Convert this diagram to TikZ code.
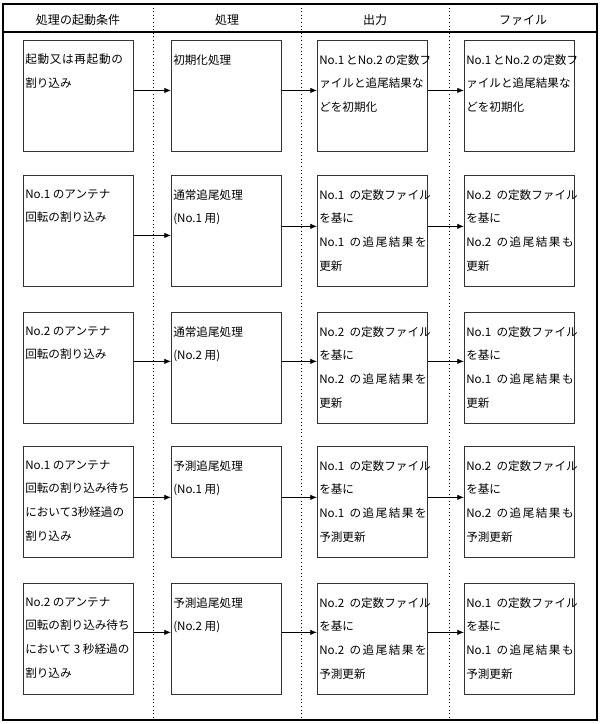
\documentclass[tikz,border=0pt]{standalone}
\usepackage{fontspec}
\newfontfamily\cjk{Noto Sans CJK JP}
\newfontfamily\cjkwide[LetterSpace=13]{Noto Sans CJK JP}
\newfontfamily\cjkmid[LetterSpace=6]{Noto Sans CJK JP}
\newcommand{\gp}{\hspace{4pt}}
\newcommand{\sg}{\hspace{1.5pt}}
\usetikzlibrary{arrows.meta}
\tikzset{
  box/.style={draw=black!80, line width=0.6pt, minimum width=82.5pt, minimum height=83.25pt, inner sep=0pt, anchor=north west},
  txt/.style={anchor=north west, inner sep=0pt, align=left, font=\cjk\fontsize{8.7}{17.8}\selectfont},
  head/.style={inner sep=0pt, font=\cjk\fontsize{9}{11}\selectfont},
  arr/.style={-{Latex[length=5pt,width=4pt]}, line width=0.6pt},
  divider/.style={dotted, line width=0.7pt},
}
\begin{document}
\begin{tikzpicture}[x=0.75pt,y=-0.75pt]
\useasboundingbox (0,0) rectangle (600,724);
% frame
\draw[line width=1.2pt] (3,4) rectangle (597,720);
\draw[line width=0.8pt] (3,32) -- (597,32);
\coordinate (d1t) at (153,4); \coordinate (d1b) at (153,720);
\coordinate (d2t) at (301,4); \coordinate (d2b) at (301,720);
\coordinate (d3t) at (449,4); \coordinate (d3b) at (449,720);
\draw[divider] (d1t) -- (d1b);
\draw[divider] (d2t) -- (d2b);
\draw[divider] (d3t) -- (d3b);
% headers
\node[head] (h1) at (78,20) {処理の起動条件};
\node[head] (h2) at (227,20) {処理};
\node[head] (h3) at (375,20) {出力};
\node[head] (h4) at (523,20) {ファイル};
% boxes
\foreach \r/\t in {1/40,2/175,3/312,4/446,5/583}{
  \node[box] (b\r1) at (23,\t) {};
  \node[box] (b\r2) at (171,\t) {};
  \node[box] (b\r3) at (317,\t) {};
  \node[box] (b\r4) at (464,\t) {};
}
% texts row 1
\node[txt] (t11) at (25,54) {{\cjkmid 起動又は再起動の}\\割り込み};
\node[txt] (t12) at (173,54) {初期化処理};
\node[txt] (t13) at (319,54) {No.1\sg とNo.2\sg の定数フ\\ァイルと追尾結果な\\どを初期化};
\node[txt] (t14) at (466,54) {No.1\sg とNo.2\sg の定数フ\\ァイルと追尾結果な\\どを初期化};
% row 2
\node[txt] (t21) at (25,189) {No.1 のアンテナ\\回転の割り込み};
\node[txt] (t22) at (173,189) {通常追尾処理\\(No.1 用)};
\node[txt] (t23) at (319,189) {No.1\gp の定数ファイル\\を基に\\No.1\gp{\cjkwide の追尾結果を}\\更新};
\node[txt] (t24) at (466,189) {No.2\gp の定数ファイル\\を基に\\No.2\gp{\cjkwide の追尾結果も}\\更新};
% row 3
\node[txt] (t31) at (25,326) {No.2 のアンテナ\\回転の割り込み};
\node[txt] (t32) at (173,326) {通常追尾処理\\(No.2 用)};
\node[txt] (t33) at (319,326) {No.2\gp の定数ファイル\\を基に\\No.2\gp{\cjkwide の追尾結果を}\\更新};
\node[txt] (t34) at (466,326) {No.1\gp の定数ファイル\\を基に\\No.1\gp{\cjkwide の追尾結果も}\\更新};
% row 4
\node[txt] (t41) at (25,460) {No.1 のアンテナ\\回転の割り込み待ち\\において3秒経過の\\割り込み};
\node[txt] (t42) at (173,460) {予測追尾処理\\(No.1 用)};
\node[txt] (t43) at (319,460) {No.1\gp の定数ファイル\\を基に\\No.1\gp{\cjkwide の追尾結果を}\\予測更新};
\node[txt] (t44) at (466,460) {No.2\gp の定数ファイル\\を基に\\No.2\gp{\cjkwide の追尾結果も}\\予測更新};
% row 5
\node[txt] (t51) at (25,597) {No.2 のアンテナ\\回転の割り込み待ち\\において 3 秒経過の\\割り込み};
\node[txt] (t52) at (173,597) {予測追尾処理\\(No.2 用)};
\node[txt] (t53) at (319,597) {No.2\gp の定数ファイル\\を基に\\No.2\gp{\cjkwide の追尾結果を}\\予測更新};
\node[txt] (t54) at (466,597) {No.1\gp の定数ファイル\\を基に\\No.1\gp{\cjkwide の追尾結果も}\\予測更新};
% arrows
\draw[arr] ([yshift=4.1pt]b11.east) -- ([yshift=4.1pt]b12.west);
\draw[arr] ([yshift=4.1pt]b12.east) -- ([yshift=4.1pt]b13.west);
\draw[arr] ([yshift=4.1pt]b13.east) -- ([yshift=4.1pt]b14.west);
\draw[arr] ([yshift=-3.4pt]b21.east) -- ([yshift=-3.4pt]b22.west);
\draw[arr] ([yshift=3.4pt]b22.east) -- ([yshift=3.4pt]b23.west);
\draw[arr] ([yshift=3.4pt]b23.east) -- ([yshift=3.4pt]b24.west);
\draw[arr] ([yshift=4.9pt]b31.east) -- ([yshift=4.9pt]b32.west);
\draw[arr] ([yshift=4.9pt]b32.east) -- ([yshift=4.9pt]b33.west);
\draw[arr] ([yshift=4.9pt]b33.east) -- ([yshift=4.9pt]b34.west);
\draw[arr] ([yshift=3.4pt]b41.east) -- ([yshift=3.4pt]b42.west);
\draw[arr] ([yshift=3.4pt]b42.east) -- ([yshift=3.4pt]b43.west);
\draw[arr] ([yshift=3.4pt]b43.east) -- ([yshift=3.4pt]b44.west);
\draw[arr] ([yshift=4.9pt]b51.east) -- ([yshift=4.9pt]b52.west);
\draw[arr] ([yshift=4.9pt]b52.east) -- ([yshift=4.9pt]b53.west);
\draw[arr] ([yshift=4.9pt]b53.east) -- ([yshift=4.9pt]b54.west);
\end{tikzpicture}
\end{document}
